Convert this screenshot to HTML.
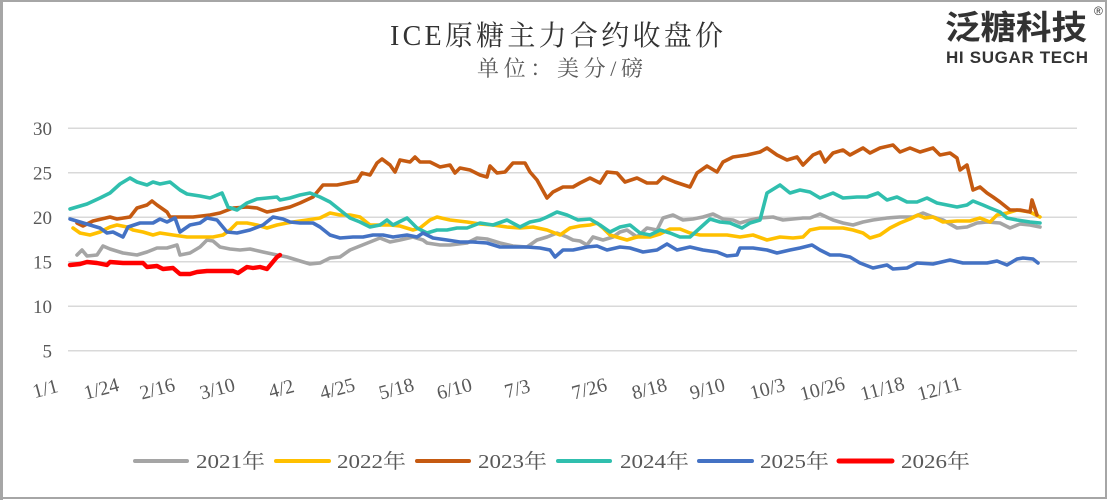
<!DOCTYPE html>
<html><head><meta charset="utf-8"><style>
html,body{margin:0;padding:0;background:#fff;}
svg{display:block;}
</style></head><body>
<svg width="1107" height="500" viewBox="0 0 1107 500" xmlns="http://www.w3.org/2000/svg">
<rect x="0" y="0" width="1107" height="500" fill="#fff"/>
<!-- frame -->
<rect x="1.5" y="1" width="1104.5" height="497" fill="none" stroke="#a6a6a6" stroke-width="2"/>
<line x1="1.5" y1="0" x2="1.5" y2="500" stroke="#a6a6a6" stroke-width="3"/>

<!-- title -->
<text x="390" y="45" font-family="Liberation Serif, Noto Serif CJK SC, serif" font-size="28" fill="#333" textLength="333" lengthAdjust="spacing">ICE原糖主力合约收盘价</text>
<text x="477" y="76" font-family="Liberation Serif, Noto Serif CJK SC, serif" font-size="22" fill="#595959" textLength="166" lengthAdjust="spacing">单位：美分/磅</text>

<!-- logo -->
<text x="945" y="39" font-family="Liberation Sans, Noto Sans CJK SC, sans-serif" font-size="33" font-weight="bold" fill="#333" textLength="142" lengthAdjust="spacingAndGlyphs">泛糖科技</text>
<text x="1094" y="15" font-family="Liberation Sans, sans-serif" font-size="12" fill="#333">®</text>
<text x="946" y="63" font-family="Liberation Sans, sans-serif" font-size="17" font-weight="bold" fill="#333" textLength="142" lengthAdjust="spacing">HI SUGAR TECH</text>

<!-- gridlines -->
<g stroke="#d9d9d9" stroke-width="1.5">
<line x1="68" y1="128.3" x2="1077" y2="128.3"/>
<line x1="68" y1="172.8" x2="1077" y2="172.8"/>
<line x1="68" y1="217.3" x2="1077" y2="217.3"/>
<line x1="68" y1="261.8" x2="1077" y2="261.8"/>
<line x1="68" y1="306.3" x2="1077" y2="306.3"/>
<line x1="68" y1="350.8" x2="1077" y2="350.8"/>
</g>

<!-- y labels -->
<g font-family="Liberation Serif, serif" font-size="19" fill="#595959" text-anchor="end">
<text x="52" y="135">30</text>
<text x="52" y="179.5">25</text>
<text x="52" y="224">20</text>
<text x="52" y="268.5">15</text>
<text x="52" y="313">10</text>
<text x="52" y="357.5">5</text>
</g>

<!-- x labels -->
<g font-family="Liberation Serif, serif" font-size="20" fill="#595959" text-anchor="middle">
<text transform="translate(47,395) rotate(-15)">1/1</text>
<text transform="translate(103,395) rotate(-15)">1/24</text>
<text transform="translate(159,395) rotate(-15)">2/16</text>
<text transform="translate(219,395) rotate(-15)">3/10</text>
<text transform="translate(283,395) rotate(-15)">4/2</text>
<text transform="translate(339,395) rotate(-15)">4/25</text>
<text transform="translate(398,395) rotate(-15)">5/18</text>
<text transform="translate(456,395) rotate(-15)">6/10</text>
<text transform="translate(519,395) rotate(-15)">7/3</text>
<text transform="translate(591,395) rotate(-15)">7/26</text>
<text transform="translate(651,395) rotate(-15)">8/18</text>
<text transform="translate(709,395) rotate(-15)">9/10</text>
<text transform="translate(769,395) rotate(-15)">10/3</text>
<text transform="translate(824,395) rotate(-15)">10/26</text>
<text transform="translate(884,395) rotate(-15)">11/18</text>
<text transform="translate(941,395) rotate(-15)">12/11</text>
</g>

<!-- series -->
<g fill="none" stroke-linejoin="round" stroke-linecap="round" stroke-width="3.6">
<polyline stroke="#a5a5a5" points="77,255 82,250 87,256 97,255 103,246 110,249 123,253 137,255 147,252 157,248 167,248 177,245 180,255 190,253 200,247 207,240 213,241 220,247 230,249 240,250 250,249 263,252 277,255 287,257 300,261 310,264 320,263 330,258 340,257 350,250 360,246 370,242 380,238 390,242 400,240 413,237 423,240 427,243 440,245 450,245 467,243 477,238 487,239 500,243 513,246 527,247 537,240 547,237 557,233 567,237 573,240 580,241 587,245 593,237 603,240 613,237 620,232 627,230 637,237 647,228 657,230 663,218 673,215 683,220 693,219 703,217 713,214 723,219 733,220 740,223 750,220 760,218 773,217 783,220 793,219 803,218 810,218 820,214 833,220 843,223 853,225 863,222 873,220 887,218 900,217 913,217 923,213 933,217 943,220 957,228 967,227 977,223 987,222 1000,223 1010,228 1020,224 1030,225 1040,227"/>
<polyline stroke="#ffc000" points="73,228 80,233 90,235 100,232 110,227 117,225 127,227 133,230 143,232 153,235 160,233 173,235 187,237 200,237 213,237 223,235 230,230 237,223 247,223 257,225 267,228 277,225 287,223 293,222 307,220 320,218 330,213 340,215 350,215 360,217 370,225 380,225 390,225 400,226 413,230 420,228 430,220 437,217 450,220 467,222 480,224 493,225 507,227 520,228 533,227 547,230 560,235 570,228 580,226 590,225 597,223 603,228 610,235 620,238 627,240 637,237 650,237 660,234 670,229 680,229 690,233 700,235 713,235 727,235 740,237 753,235 767,240 780,237 793,238 803,237 810,230 820,228 833,228 843,228 853,230 863,233 870,238 880,235 890,228 900,223 910,219 918,215 925,218 933,217 943,222 957,221 970,221 980,218 990,222 997,215 1007,213 1017,210 1030,212 1040,217"/>
<polyline stroke="#c55a11" points="77,223 83,226 93,221 110,217 117,219 130,217 137,208 147,205 152,201 157,205 167,212 170,217 180,217 193,217 210,215 220,213 233,208 247,207 257,208 267,212 277,210 290,207 300,203 313,197 323,185 337,185 347,183 357,181 362,173 370,175 377,163 382,159 390,165 395,172 400,160 410,162 415,157 420,162 430,162 440,167 450,165 455,173 460,168 470,170 480,175 487,177 490,166 497,173 505,172 513,163 525,163 530,172 537,180 547,198 553,192 563,187 573,187 580,183 590,178 600,183 607,172 617,173 625,182 637,178 647,183 657,183 663,177 675,182 690,187 697,173 707,166 717,172 723,162 733,157 747,155 760,152 767,148 777,155 787,160 797,157 803,165 813,155 820,152 825,162 833,153 843,150 850,155 863,148 870,153 880,148 893,145 900,152 910,148 920,152 933,148 940,155 950,153 957,158 960,170 967,165 973,190 980,187 987,193 993,197 1000,202 1010,210 1020,210 1030,212 1032,200 1037,215"/>
<polyline stroke="#30bfae" points="70,209 87,204 100,198 110,193 120,184 130,178 137,182 147,185 153,182 160,184 170,182 180,190 187,194 200,196 210,198 222,193 228,207 237,210 247,203 257,199 267,198 277,197 280,200 290,198 300,195 310,193 320,197 330,202 340,210 350,218 360,222 370,227 380,225 387,220 393,225 407,218 417,228 427,233 437,230 447,230 457,228 467,228 480,223 493,225 507,220 520,227 530,222 540,220 547,217 557,212 567,215 578,220 590,219 600,225 610,232 620,227 630,225 640,233 650,235 660,230 670,233 680,237 690,237 700,228 710,219 720,222 730,223 742,228 750,223 760,220 767,193 780,185 790,193 800,190 810,192 820,198 833,193 843,198 857,197 867,197 878,193 887,200 897,197 907,202 917,202 927,198 937,203 947,205 957,207 967,205 973,201 983,205 990,208 1000,212 1007,218 1017,220 1030,222 1040,223"/>
<polyline stroke="#4472c4" points="70,219 80,222 90,225 100,228 107,233 113,232 123,237 128,227 140,223 153,223 160,219 167,222 175,218 180,232 190,225 200,223 207,218 217,220 227,232 237,233 250,230 263,225 273,217 283,219 290,222 300,223 313,223 320,227 330,235 340,238 353,237 363,237 373,235 383,235 393,237 407,235 417,237 423,233 433,238 447,240 460,242 473,242 487,243 500,247 513,247 527,247 540,248 550,250 555,257 563,250 573,250 587,247 597,246 607,250 620,247 630,248 643,252 657,250 667,244 677,250 690,247 703,250 717,252 727,256 737,255 740,248 753,248 767,250 777,253 790,250 800,248 812,245 820,250 830,255 840,255 850,257 860,263 873,268 887,265 893,269 907,268 917,263 933,264 950,260 963,263 977,263 987,263 997,261 1007,265 1017,259 1023,258 1033,259 1038,263"/>
<polyline stroke="#ff0000" stroke-width="4.4" points="70,265 80,264 87,262 97,263 107,265 110,262 123,263 133,263 143,263 147,267 157,266 163,269 173,268 180,274 190,274 197,272 207,271 220,271 233,271 238,273 247,267 253,268 260,267 267,269 272,263 277,257 280,255"/>
</g>

<!-- legend -->
<g stroke-linecap="round" stroke-width="4">
<line x1="135" y1="461" x2="187" y2="461" stroke="#a5a5a5"/>
<line x1="276" y1="461" x2="329" y2="461" stroke="#ffc000"/>
<line x1="417" y1="461" x2="469" y2="461" stroke="#c55a11"/>
<line x1="558" y1="461" x2="610" y2="461" stroke="#30bfae"/>
<line x1="699" y1="461" x2="752" y2="461" stroke="#4472c4"/>
<line x1="839" y1="461" x2="892" y2="461" stroke="#ff0000" stroke-width="5"/>
</g>
<g font-family="Liberation Serif, Noto Serif CJK SC, serif" font-size="20" fill="#595959">
<text x="196" y="468" textLength="69" lengthAdjust="spacingAndGlyphs">2021年</text>
<text x="337" y="468" textLength="69" lengthAdjust="spacingAndGlyphs">2022年</text>
<text x="478" y="468" textLength="69" lengthAdjust="spacingAndGlyphs">2023年</text>
<text x="620" y="468" textLength="69" lengthAdjust="spacingAndGlyphs">2024年</text>
<text x="760" y="468" textLength="69" lengthAdjust="spacingAndGlyphs">2025年</text>
<text x="901" y="468" textLength="69" lengthAdjust="spacingAndGlyphs">2026年</text>
</g>
</svg>
</body></html>
